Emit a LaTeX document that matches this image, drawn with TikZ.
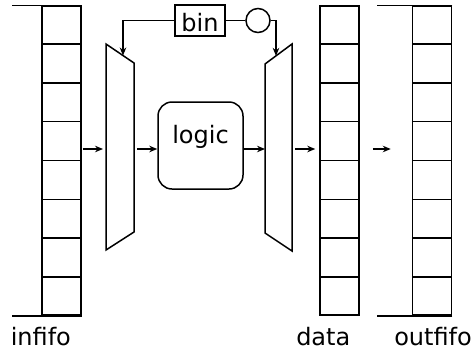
\documentclass[tikz,border=0pt]{standalone}
\usepackage{fontspec}
\setmainfont{DejaVu Sans}
\usetikzlibrary{arrows.meta,calc}
\begin{document}
\begin{tikzpicture}[x=1pt,y=-1pt, line width=1.5pt,
  arr/.style={-{Stealth[length=8pt,width=6.5pt]}},
  fifo/.style={draw, minimum width=39pt, minimum height=309pt, inner sep=0pt},
  lbl/.style={anchor=base west, inner sep=0pt, font=\fontsize{24}{28}\selectfont},
  txt/.style={font=\fontsize{24}{28}\selectfont}]
\useasboundingbox (0,0) rectangle (471,354);
% fifos
\node[fifo] (in) at (61.5,160.5) {};
\node[fifo] (data) at (339.5,160.5) {};
\node[fifo] (out) at (432,160.5) {};
\foreach \f in {in,data,out}{
  \foreach \k in {1,...,7}
    \draw ($(\f.north west)!\k/8!(\f.south west)$) -- ($(\f.north east)!\k/8!(\f.south east)$);
}
\draw (in.north east) -- ++(-70,0);
\draw (in.south east) -- ++(-70,0);
\draw (out.north east) -- ++(-75,0);
\draw (out.south east) -- ++(-75,0);
% muxes
\coordinate (m1a) at (106,44);
\coordinate (m1b) at (134,63);
\coordinate (m1c) at (134,232);
\coordinate (m1d) at (106,250);
\draw (m1a) -- (m1b) -- (m1c) -- (m1d) -- cycle;
\coordinate (m2a) at (265,64);
\coordinate (m2b) at (292,44);
\coordinate (m2c) at (292,251);
\coordinate (m2d) at (265,233);
\draw (m2a) -- (m2b) -- (m2c) -- (m2d) -- cycle;
\coordinate (m1in) at (106,149);
\coordinate (m1out) at (134,149);
\coordinate (m2in) at (265,149);
\coordinate (m2out) at (292,149);
\coordinate (m1top) at ($(m1a)!0.607!(m1b)$);
\coordinate (m2top) at ($(m2a)!0.407!(m2b)$);
% logic
\node[draw, rounded corners=14pt, minimum width=85pt, minimum height=87pt,
      txt, text height=13pt, text depth=18pt] (logic) at (200.5,145.5) {logic};
% bin and circle
\node[draw, minimum width=50pt, minimum height=31pt, inner sep=0pt,
      txt, text height=22pt, text depth=0pt] (bin) at (200,20.5) {bin};
\node[draw, circle, minimum size=24pt, inner sep=0pt] (c) at (258,20.5) {};
% connectors
\draw[arr, shorten <=1pt, shorten >=3pt] (in.east |- m1in) -- (m1in);
\draw[arr, shorten <=3pt] (m1out) -- (logic.west |- m1out);
\draw[arr] (logic.east |- m2in) -- (m2in);
\draw[arr, shorten <=3pt, shorten >=4pt] (m2out) -- (data.west |- m2out);
\draw[arr, shorten <=13pt, shorten >=21pt] (data.east |- m2out) -- (out.west |- m2out);
\draw[arr] (bin.west) -| (m1top);
\draw (bin.east) -- (c.west);
\draw[arr] (c.east) -| (m2top);
% labels
\node[lbl] (linf) at (10,345) {infifo};
\node[lbl] (ldata) at (295.5,345) {data};
\node[lbl] (lout) at (393.5,345) {outfifo};
\end{tikzpicture}
\end{document}
